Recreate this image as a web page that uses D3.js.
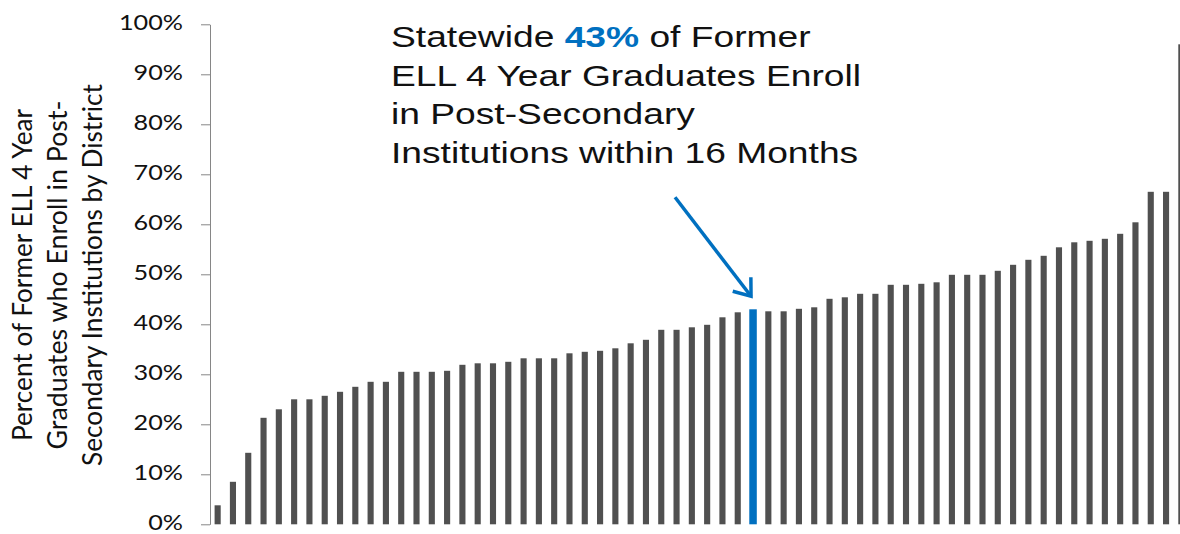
<!DOCTYPE html>
<html>
<head>
<meta charset="utf-8">
<script src="https://cdn.jsdelivr.net/npm/d3@7"></script>
<style>
  body { margin: 0; background: #fff; }
  svg { display: block; }
</style>
</head>
<body>
<svg id="chart"></svg>
<script>
// district values, sorted (fraction enrolled)
var districtRates = [
  0.038, 0.085, 0.143, 0.213, 0.230, 0.250, 0.250, 0.257, 0.265, 0.275,
  0.285, 0.285, 0.305, 0.305, 0.305, 0.307, 0.319, 0.322, 0.322, 0.325,
  0.332, 0.332, 0.332, 0.342, 0.345, 0.347, 0.352, 0.362, 0.369, 0.389,
  0.389, 0.394, 0.399, 0.414, 0.424, 0.430, 0.426, 0.426, 0.431, 0.434,
  0.451, 0.454, 0.461, 0.461, 0.479, 0.479, 0.481, 0.484, 0.499, 0.499,
  0.499, 0.507, 0.519, 0.529, 0.537, 0.554, 0.564, 0.567, 0.571, 0.581,
  0.604, 0.665, 0.665, 0.960
];
var statewideIndex = 35;
var statewideLabel = "43%";
var yTickValues = [0, 0.1, 0.2, 0.3, 0.4, 0.5, 0.6, 0.7, 0.8, 0.9, 1.0];
var yTitleLines = [
  "Percent of Former ELL 4 Year",
  "Graduates who Enroll in Post-",
  "Secondary Institutions by District"
];
var calloutLines = [
  ["Statewide ", statewideLabel, " of Former"],
  ["ELL 4 Year Graduates Enroll"],
  ["in Post-Secondary"],
  ["Institutions within 16 Months"]
];

var width = 1180, height = 534;
var grey = "#505050", blue = "#0070C0", axisGrey = "#868686";

var svg = d3.select("#chart")
    .attr("width", width)
    .attr("height", height);

var x = d3.scaleBand()
    .domain(d3.range(districtRates.length))
    .range([210, 1189])
    .paddingInner(0.6)
    .paddingOuter(0.3);

var y = d3.scaleLinear()
    .domain([0, 1])
    .range([524.3, 24.3]);

// bars, the statewide one a bit wider and blue
function barWidth(i) {
  return i == statewideIndex ? x.bandwidth() + 1.4 : x.bandwidth();
}

svg.append("g").selectAll("rect")
  .data(districtRates)
  .enter()
  .append("rect")
    .attr("x", function(d, i) { return x(i) + x.bandwidth() / 2 - barWidth(i) / 2; })
    .attr("width", function(d, i) { return barWidth(i); })
    .attr("y", function(d) { return y(d); })
    .attr("height", function(d) { return y(0) - y(d); })
    .attr("fill", function(d, i) { return i == statewideIndex ? blue : grey; });

// y axis
var yAxis = svg.append("g")
    .attr("transform", "translate(210,0)")
    .call(d3.axisLeft(y)
      .tickValues(yTickValues)
      .tickFormat(d3.format(".0%"))
      .tickSize(9)
      .tickSizeOuter(0));

yAxis.select(".domain").attr("stroke", axisGrey);
yAxis.selectAll(".tick line").attr("stroke", axisGrey);
yAxis.selectAll(".tick text")
    .attr("x", -22.5)
    .attr("dy", "0.27em")
    .attr("transform", "scale(1.2,1)")
    .style("font-family", "Lato, 'Open Sans', sans-serif")
    .style("font-size", "21px")
    .attr("fill", "#111");

// rotated y axis title
var titleLengths = [332, 349, 382];
var titleG = svg.append("g")
    .attr("transform", "translate(0,275)");
titleG.selectAll("text")
  .data(yTitleLines)
  .enter()
  .append("text")
    .attr("transform", function(d, i) {
      return "translate(" + (31.7 + i * 35) + ",0) rotate(-90) scale(1,1.2)";
    })
    .attr("text-anchor", "middle")
    .attr("textLength", function(d, i) { return titleLengths[i]; })
    .attr("lengthAdjust", "spacingAndGlyphs")
    .style("font-family", "Lato, 'Open Sans', sans-serif")
    .style("font-size", "22px")
    .attr("fill", "#111")
    .text(function(d) { return d; });

// callout text
var callout = svg.append("g")
    .attr("transform", "translate(391,0)");
callout.selectAll("text")
  .data(calloutLines)
  .enter()
  .append("text")
    .attr("transform", function(d, i) {
      return "translate(0," + (46.7 + i * 38.8) + ") scale(1.24,1)";
    })
    .style("font-family", "'Liberation Sans', Arial, sans-serif")
    .style("font-size", "30px")
    .attr("fill", "#111")
    .each(function(parts) {
      var t = d3.select(this);
      parts.forEach(function(p) {
        var span = t.append("tspan").text(p);
        if (p == statewideLabel) {
          span.attr("fill", blue).style("font-weight", "bold");
        }
      });
    });

// arrow pointing at the statewide bar
var tipX = x(statewideIndex) + x.bandwidth() / 2 - 2;
var tipY = y(districtRates[statewideIndex]) - 13;
var startX = tipX - 76, startY = tipY - 99;
var ang = Math.atan2(tipY - startY, tipX - startX) + Math.PI;
var armLen = 19, spread = 37 * Math.PI / 180;
var arm1 = [tipX + armLen * Math.cos(ang + spread), tipY + armLen * Math.sin(ang + spread)];
var arm2 = [tipX + armLen * Math.cos(ang - spread), tipY + armLen * Math.sin(ang - spread)];

svg.append("line")
    .attr("x1", startX).attr("y1", startY)
    .attr("x2", tipX).attr("y2", tipY)
    .attr("stroke", blue)
    .attr("stroke-width", 3.5);
svg.append("polyline")
    .attr("points", [arm1, [tipX, tipY], arm2].join(" "))
    .attr("fill", "none")
    .attr("stroke", blue)
    .attr("stroke-width", 3.5)
    .attr("stroke-linejoin", "miter");
</script>
</body>
</html>
